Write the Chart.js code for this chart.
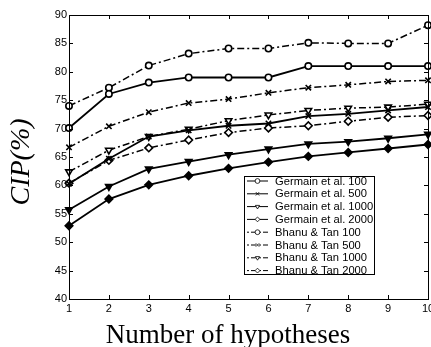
<!DOCTYPE html>
<html>
<head>
<meta charset="utf-8">
<script src="https://cdn.jsdelivr.net/npm/chart.js@4/dist/chart.umd.min.js"></script>
<style>
html,body{margin:0;padding:0;background:#fff;overflow:hidden;width:431px;height:347px;}
canvas{display:block;}
</style>
</head>
<body>
<canvas id="c" width="445" height="347"></canvas>
<script>
const hypotheses = [1, 2, 3, 4, 5, 6, 7, 8, 9, 10];
const germain100  = [70.1, 76.1, 78.1, 79.0, 79.0, 79.0, 81.0, 81.0, 81.0, 81.0];
const germain500  = [60.3, 64.7, 68.6, 69.7, 70.5, 70.9, 72.2, 72.6, 73.2, 73.8];
const germain1000 = [55.7, 59.8, 62.9, 64.2, 65.4, 66.4, 67.3, 67.7, 68.3, 69.0];
const germain2000 = [52.9, 57.6, 60.1, 61.7, 63.0, 64.1, 65.1, 65.8, 66.5, 67.2];
const bhanu100    = [74.0, 77.2, 81.1, 83.2, 84.1, 84.1, 85.1, 85.0, 85.0, 88.2];
const bhanu500    = [66.7, 70.4, 72.9, 74.5, 75.2, 76.3, 77.2, 77.7, 78.3, 78.5];
const bhanu1000   = [62.4, 66.2, 68.6, 69.9, 71.4, 72.4, 73.2, 73.6, 73.8, 74.3];
const bhanu2000   = [60.4, 64.4, 66.6, 68.0, 69.3, 70.1, 70.5, 71.3, 72.0, 72.3];
const seriesLabels = ["Germain et al. 100", "Germain et al. 500", "Germain et al. 1000", "Germain et al. 2000",
                      "Bhanu & Tan 100", "Bhanu & Tan 500", "Bhanu & Tan 1000", "Bhanu & Tan 2000"];
const xTitle = "Number of hypotheses";
const yTitle = "CIP(%)";

const DASHDOT = [7, 3, 2, 3];
function mk(label, values, style, rot, dashed, fill) {
  return {
    label: label,
    data: hypotheses.map((h, i) => ({x: h, y: values[i]})),
    borderColor: '#000',
    borderWidth: dashed ? 1.5 : 1.8,
    borderDash: dashed ? DASHDOT : [],
    pointStyle: style,
    pointRotation: rot,
    pointRadius: style === 'circle' ? 3.2 : 3.8,
    pointBorderWidth: 1.6,
    pointBorderColor: '#000',
    pointBackgroundColor: fill,
    fill: false,
    tension: 0,
    clip: false
  };
}
const datasets = [
  mk(seriesLabels[0], germain100, 'circle', 0, false, '#fff'),
  mk(seriesLabels[1], germain500, 'crossRot', 0, false, '#000'),
  mk(seriesLabels[2], germain1000, 'triangle', 180, false, '#000'),
  mk(seriesLabels[3], germain2000, 'rectRot', 0, false, '#000'),
  mk(seriesLabels[4], bhanu100, 'circle', 0, true, '#fff'),
  mk(seriesLabels[5], bhanu500, 'crossRot', 0, true, '#000'),
  mk(seriesLabels[6], bhanu1000, 'triangle', 180, true, '#fff'),
  mk(seriesLabels[7], bhanu2000, 'rectRot', 0, true, '#fff')
];

const frame = {
  id: 'frame',
  afterDatasetsDraw(chart) {
    const ctx = chart.ctx, a = chart.chartArea;
    const xs = chart.scales.x, ys = chart.scales.y;
    ctx.save();
    ctx.strokeStyle = '#000';
    ctx.lineWidth = 1;
    ctx.setLineDash([]);
    ctx.strokeRect(Math.round(a.left) + 0.5, Math.round(a.top) + 0.5, Math.round(a.right - a.left), Math.round(a.bottom - a.top));
    const tl = 4;
    ctx.beginPath();
    xs.ticks.forEach(t => {
      const px = Math.round(xs.getPixelForValue(t.value)) + 0.5;
      ctx.moveTo(px, a.bottom); ctx.lineTo(px, a.bottom - tl);
      ctx.moveTo(px, a.top); ctx.lineTo(px, a.top + tl);
    });
    ys.ticks.forEach(t => {
      const py = Math.round(ys.getPixelForValue(t.value)) + 0.5;
      ctx.moveTo(a.left, py); ctx.lineTo(a.left + tl, py);
      ctx.moveTo(a.right, py); ctx.lineTo(a.right - tl, py);
    });
    ctx.stroke();

    // axis titles
    ctx.fillStyle = '#000';
    ctx.font = '27px "Liberation Serif"';
    ctx.textAlign = 'center';
    ctx.textBaseline = 'alphabetic';
    ctx.fillText(xTitle, 228, 343);
    ctx.save();
    ctx.translate(22, (a.top + a.bottom) / 2 + 5);
    ctx.rotate(-Math.PI / 2);
    ctx.font = 'italic 28px "Liberation Serif"';
    ctx.textBaseline = 'middle';
    ctx.fillText(yTitle, 0, 0);
    ctx.restore();

    // legend
    const bx = 244, by = 176, bw = 130, bh = 98;
    ctx.fillStyle = '#fff';
    ctx.fillRect(bx, by, bw, bh);
    ctx.strokeStyle = '#000';
    ctx.lineWidth = 1;
    ctx.strokeRect(bx + 0.5, by + 0.5, bw, bh);
    chart.data.datasets.forEach((ds, i) => {
      const cy = 181 + i * 12.8;
      ctx.save();
      ctx.beginPath();
      ctx.lineWidth = 1;
      ctx.setLineDash(ds.borderDash.length ? [2, 2, 5, 3] : []);
      ctx.moveTo(247, cy); ctx.lineTo(268, cy);
      ctx.stroke();
      ctx.setLineDash([]);
      ctx.fillStyle = '#fff';
      ctx.strokeStyle = '#000';
      ctx.lineWidth = 0.8;
      Chart.helpers.drawPoint(ctx, {pointStyle: ds.pointStyle, rotation: ds.pointRotation, radius: 2.4, borderWidth: 0.8}, 257.5, cy);
      ctx.restore();
      ctx.fillStyle = '#000';
      ctx.font = '11.2px "Liberation Sans"';
      ctx.textAlign = 'left';
      ctx.textBaseline = 'middle';
      ctx.fillText(ds.label, 275, cy + 0.5);
    });
    ctx.restore();
  }
};

new Chart(document.getElementById('c'), {
  type: 'line',
  data: { datasets: datasets },
  options: {
    responsive: false,
    animation: false,
    devicePixelRatio: 1,
    layout: { padding: { left: 0, top: 15, right: 17, bottom: 0 } },
    plugins: { legend: { display: false }, tooltip: { enabled: false } },
    scales: {
      x: {
        type: 'linear', min: 1, max: 10,
        grid: { display: false, drawTicks: false },
        border: { display: false },
        ticks: { stepSize: 1, color: '#000', padding: 3, maxRotation: 0, font: { family: 'Liberation Sans', size: 11 } },
        afterFit(s) { s.height = 48; }
      },
      y: {
        min: 40, max: 90,
        grid: { display: false, drawTicks: false },
        border: { display: false },
        ticks: { stepSize: 5, color: '#000', padding: 2, font: { family: 'Liberation Sans', size: 11 } },
        afterFit(s) { s.width = 69; }
      }
    }
  },
  plugins: [frame]
});
</script>
</body>
</html>
